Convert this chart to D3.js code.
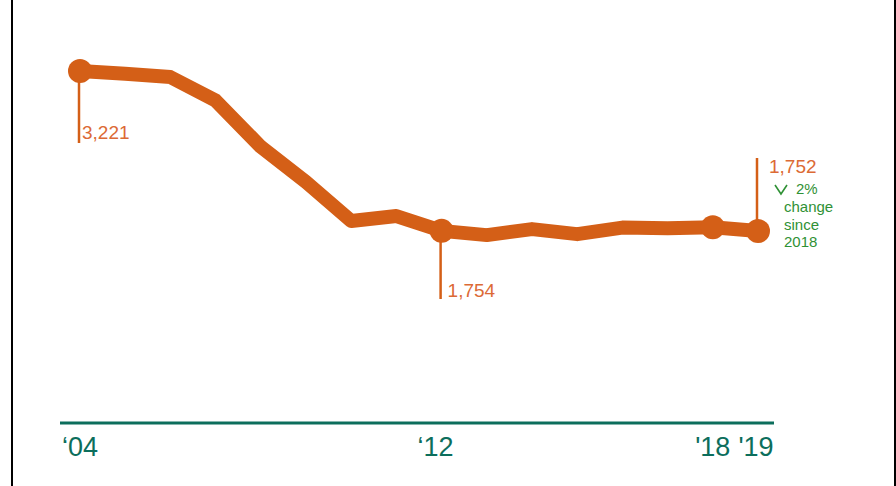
<!DOCTYPE html>
<html>
<head>
<meta charset="utf-8">
<script src="https://cdn.jsdelivr.net/npm/d3@7"></script>
<style>
  body { margin: 0; background: #fff; }
  svg { display: block; }
</style>
</head>
<body>
<svg width="896" height="486"></svg>
<script>
var years = [2004, 2005, 2006, 2007, 2008, 2009, 2010, 2011, 2012, 2013, 2014, 2015, 2016, 2017, 2018, 2019];
var values = [3221, 3195, 3165, 2950, 2525, 2202, 1845, 1890, 1754, 1715, 1770, 1724, 1784, 1779, 1788, 1752];
var dotYears = [2004, 2012, 2018, 2019];
var tickYears = [2004, 2012, 2018, 2019];
var tickLabels = ["\u201804", "\u201812", "'18", "'19"];
var noteLines = ["change", "since", "2018"];

var svg = d3.select("svg"),
    width = +svg.attr("width"),
    height = +svg.attr("height");

var orange = "#d45f17",
    labelOrange = "#dc6a35",
    green = "#2f9135",
    teal = "#0c6e5c";

var data = years.map(function(y, i) { return {year: y, value: values[i]}; });
var byYear = {};
data.forEach(function(d) { byYear[d.year] = d; });

var x = d3.scaleLinear().domain([2004, 2019]).range([80, 758]);
var y = d3.scaleLinear().domain([0, 3221]).range([422, 71]);

// frame
svg.append("line").attr("x1", 12).attr("x2", 12).attr("y1", 0).attr("y2", height)
  .attr("stroke", "#000").attr("stroke-width", 2);
svg.append("line").attr("x1", 895).attr("x2", 895).attr("y1", 0).attr("y2", height)
  .attr("stroke", "#000").attr("stroke-width", 2);

// axis
var axis = svg.append("g").attr("transform", "translate(0,423)");
axis.append("line").attr("x1", 60).attr("x2", 774)
  .attr("stroke", teal).attr("stroke-width", 3);
axis.selectAll("text")
  .data(tickYears)
  .enter().append("text")
    .attr("x", function(d, i) { return x(d) + [0, -6, 0, -2][i]; })
    .attr("y", 33)
    .attr("text-anchor", "middle")
    .attr("font-family", "'Liberation Sans Narrow', 'Arial Narrow', 'Liberation Sans', sans-serif")
    .attr("font-size", 27)
    .attr("fill", teal)
    .text(function(d, i) { return tickLabels[i]; });

// drop lines
var drops = [
  {year: 2012, y2: 299},
  {year: 2004, y2: 143},
  {year: 2019, y2: 158}
];
svg.selectAll(".drop")
  .data(drops)
  .enter().append("line")
    .attr("class", "drop")
    .attr("x1", function(d) { return x(d.year) - 1; })
    .attr("x2", function(d) { return x(d.year) - 1; })
    .attr("y1", function(d) { return y(byYear[d.year].value); })
    .attr("y2", function(d) { return d.y2; })
    .attr("stroke", orange)
    .attr("stroke-width", 2.5);

// main line
var line = d3.line()
  .x(function(d) { return x(d.year); })
  .y(function(d) { return y(d.value); });

svg.append("path")
  .datum(data)
  .attr("d", line)
  .attr("fill", "none")
  .attr("stroke", orange)
  .attr("stroke-width", 14)
  .attr("stroke-linejoin", "round");

svg.selectAll(".dot")
  .data(dotYears)
  .enter().append("circle")
    .attr("class", "dot")
    .attr("cx", function(d) { return x(d); })
    .attr("cy", function(d) { return y(byYear[d].value); })
    .attr("r", 12)
    .attr("fill", orange);

// value labels
var fmt = d3.format(",");
var labels = [
  {year: 2004, dx: 2, y: 139},
  {year: 2012, dx: 6, y: 297},
  {year: 2019, dx: 11, y: 173}
];
svg.selectAll(".val")
  .data(labels)
  .enter().append("text")
    .attr("class", "val")
    .attr("x", function(d) { return x(d.year) + d.dx; })
    .attr("y", function(d) { return d.y; })
    .attr("font-family", "'Liberation Sans', Arial, sans-serif")
    .attr("font-size", 19)
    .attr("fill", labelOrange)
    .text(function(d) { return fmt(byYear[d.year].value); });

// change note
var prev = byYear[2018].value, last = byYear[2019].value;
var pct = Math.round(Math.abs(last - prev) / prev * 100);
var note = svg.append("g").attr("transform", "translate(" + (x(2019) + 26) + ",0)");
note.append("path")
  .attr("d", "M-9,185 L-3,194 L3,185")
  .attr("fill", "none")
  .attr("stroke", green)
  .attr("stroke-width", 1.6);
note.append("text")
  .attr("x", 12).attr("y", 194)
  .attr("font-family", "'Liberation Sans', Arial, sans-serif")
  .attr("font-size", 15)
  .attr("fill", green)
  .text(pct + "%");
note.selectAll(".nl")
  .data(noteLines)
  .enter().append("text")
    .attr("class", "nl")
    .attr("x", 0)
    .attr("y", function(d, i) { return 212 + i * 17.5; })
    .attr("font-family", "'Liberation Sans', Arial, sans-serif")
    .attr("font-size", 15)
    .attr("fill", green)
    .text(function(d) { return d; });
</script>
</body>
</html>
